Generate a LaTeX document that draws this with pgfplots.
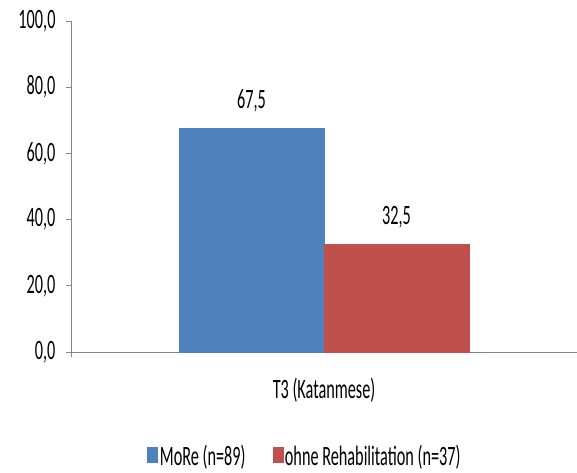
\documentclass[border=0pt]{standalone}
\usepackage{fontspec}
\setmainfont{Carlito}[FakeStretch=0.58]
\usepackage{pgfplots}
\pgfplotsset{compat=1.18}
\definecolor{bblue}{HTML}{4F81BD}
\definecolor{rred}{HTML}{C0504D}
\definecolor{axgray}{HTML}{868686}
\newcommand{\bigf}{\fontsize{28pt}{32pt}\selectfont}
\begin{document}
\begin{tikzpicture}
\begin{axis}[
  name=ax,
  scale only axis,
  width=506pt, height=331pt,
  ybar=0pt, bar width=145pt,
  xmin=-1, xmax=1,
  ymin=0, ymax=100,
  ytick={0,20,40,60,80,100},
  xtick={-1,1}, xticklabels={},
  extra x ticks={0},
  extra x tick labels={T3 (Katanmese)},
  extra x tick style={major tick length=0pt},
  xticklabel style={yshift=-22pt},
  axis x line=bottom, axis y line=left,
  axis line style={draw=axgray, line width=0.8pt, -},
  tick style={draw=axgray, line width=0.8pt},
  major tick length=5pt,
  tick align=outside,
  y axis line style={-},
  x axis line style={-},
  /pgf/number format/.cd, fixed, fixed zerofill, precision=1, use comma, 1000 sep={}, assume math mode=true,
  /pgfplots/.cd,
  ticklabel style={font=\bigf},
  yticklabel style={xshift=-7pt},
  nodes near coords,
  every node near coord/.append style={font=\bigf, anchor=south, yshift=13pt},
  legend style={at={(0.4625,-0.314)}, anchor=center, draw=none, font=\bigf, legend columns=2,
    /tikz/every even column/.append style={column sep=25pt}},
  legend image code/.code={\fill[#1] (0pt,-6pt) rectangle (10pt,9pt);},
  clip=false,
]
\addplot[fill=bblue, draw=bblue] coordinates {(0,67.5)};
\addplot[fill=rred, draw=rred] coordinates {(0,32.5)};
\legend{MoRe (n=89), ohne Rehabilitation (n=37)}
\end{axis}
\pgfresetboundingbox
\path ([xshift=-71pt,yshift=-120pt]ax.south west) rectangle ([yshift=21pt]ax.north east);
\end{tikzpicture}
\end{document}
